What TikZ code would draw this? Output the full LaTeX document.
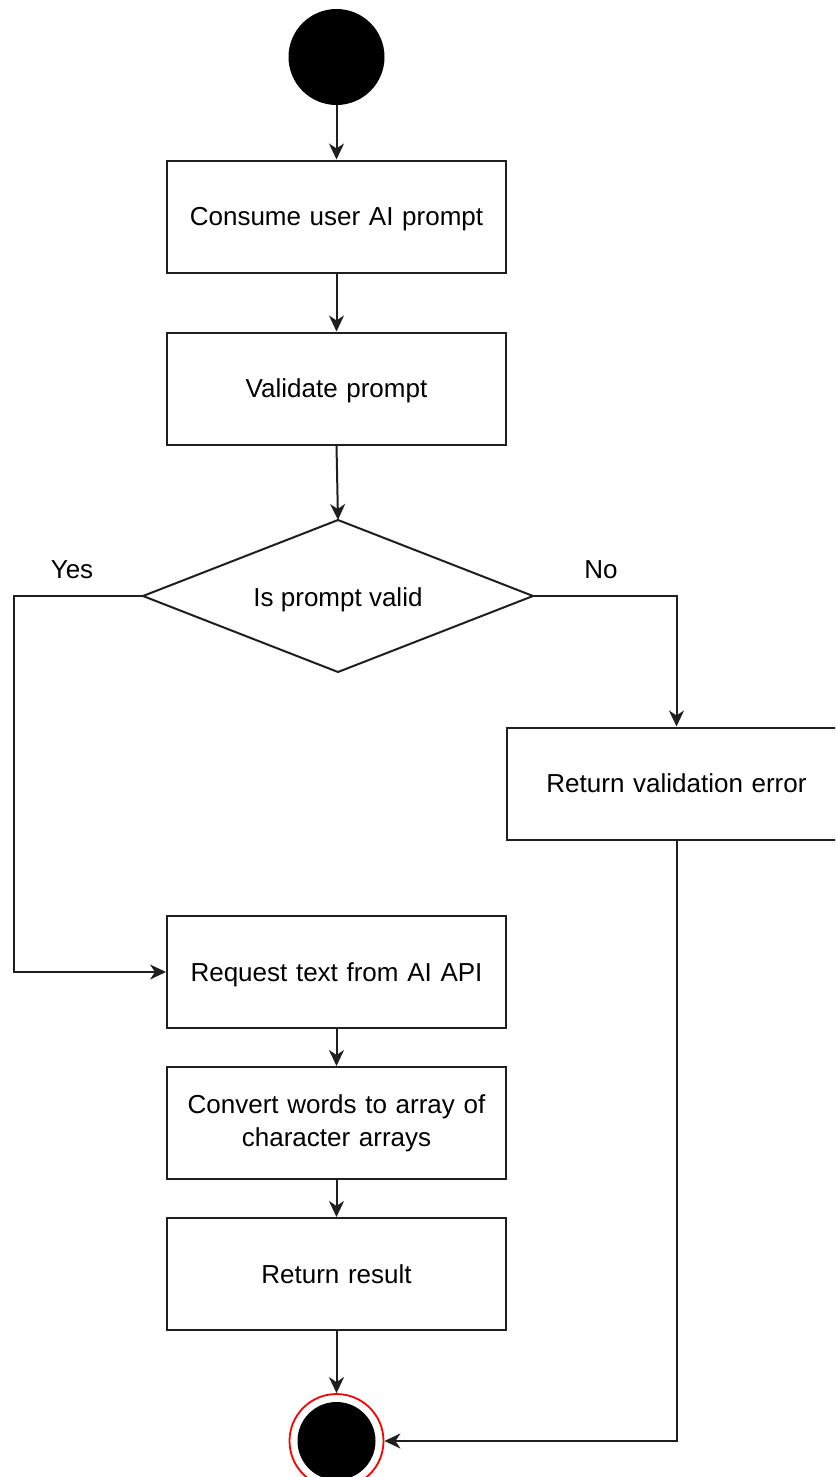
\documentclass[tikz,border=0pt]{standalone}
\usepackage{fontspec}
\setmainfont{Liberation Sans}
\usetikzlibrary{arrows.meta}

\begin{document}
\begin{tikzpicture}[x=1pt,y=-1pt,
  every node/.style={font=\fontsize{26}{33}\selectfont, text=black, text depth=0pt},
  flowline/.style={line width=2pt, draw=black!88},
  flowarrow/.style={flowline, -{Stealth[length=16pt,width=15pt,inset=5pt]}},
  stepbox/.style={rectangle, draw=black!88, line width=2pt, fill=white,
    minimum width=339pt, minimum height=112pt, inner sep=0pt,
    text width=310pt, align=center},
  startdot/.style={circle, fill=black, minimum size=96pt, inner sep=0pt},
  enddot/.style={circle, draw=red, line width=1.8pt, fill=white,
    minimum size=94pt, inner sep=0pt,
    path picture={\fill[black] (path picture bounding box.center) circle (39pt);}},
  branchlabel/.style={inner sep=0pt}
]
\clip (0,0) rectangle (835,1477);
\fill[white] (0,0) rectangle (835,1477);

% nodes
\node[startdot] (start) at (336.5,57) {};
\node[stepbox] (consume) at (336.5,216.5) {Consume user AI prompt};
\node[stepbox] (validate) at (336.5,388.5) {Validate prompt};

% decision diamond
\path[fill=white, draw=black!88, line width=2pt]
  (338,520) coordinate (checkN) -- (533,596) coordinate (checkE)
  -- (338,672) coordinate (checkS) -- (143,596) coordinate (checkW) -- cycle;
\node (checklabel) at (338,597) {Is prompt valid};

\node[stepbox] (error) at (676.5,783.5) {Return validation error};
\node[stepbox] (request) at (336.5,972) {Request text from AI API};
\node[stepbox, text depth={}] (convert) at (336.5,1123) {Convert words to array of\\character arrays};
\node[stepbox] (result) at (336.5,1274) {Return result};
\node[enddot] (finish) at (336.5,1441) {};

\node[branchlabel] (yes) at (72,570) {Yes};
\node[branchlabel] (no) at (601,570) {No};

\coordinate (yesbend) at (14,596);
\coordinate (nobend) at (676.5,596);

% connectors
\draw[flowarrow] (start) -- (consume);
\draw[flowarrow] (consume) -- (validate);
\draw[flowarrow] (validate.south) -- (checkN);
\draw[flowarrow] (checkW) -- (yesbend) |- (request.west);
\draw[flowarrow] (checkE) -- (nobend) -- (error.north);
\draw[flowarrow] (request) -- (convert);
\draw[flowarrow] (convert) -- (result);
\draw[flowarrow] (result) -- (finish);
\draw[flowarrow] (error.south) |- (finish.east);
\end{tikzpicture}
\end{document}
